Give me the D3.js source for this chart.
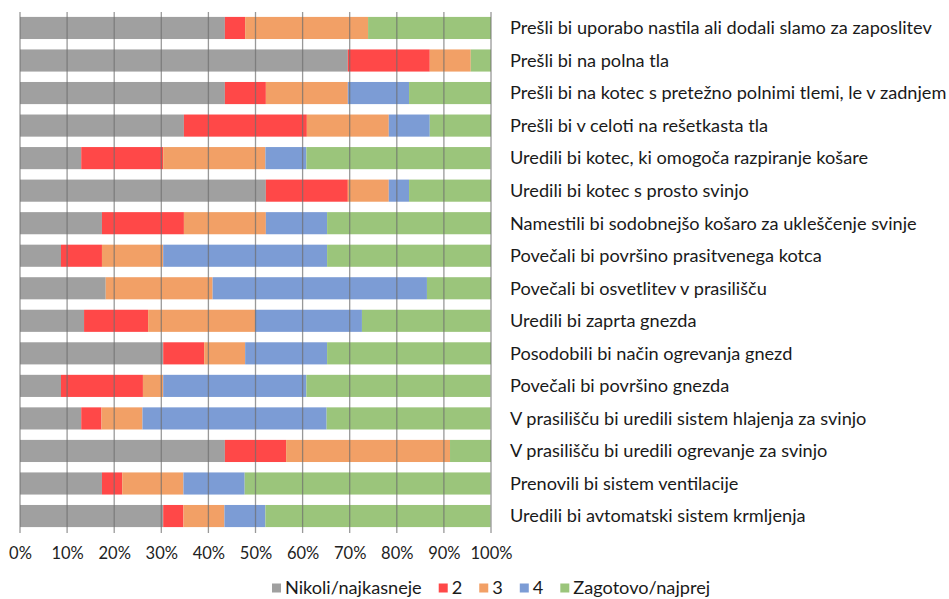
<!DOCTYPE html>
<html><head><meta charset="utf-8">
<script src="https://cdn.jsdelivr.net/npm/d3@7"></script>
<style>html,body{margin:0;padding:0;background:#fff;}svg{display:block;}</style>
</head><body>
<svg id="chart" width="949" height="599"></svg>
<script>
const categories = [
  "Prešli bi uporabo nastila ali dodali slamo za zaposlitev",
  "Prešli bi na polna tla",
  "Prešli bi na kotec s pretežno polnimi tlemi, le v zadnjem",
  "Prešli bi v celoti na rešetkasta tla",
  "Uredili bi kotec, ki omogoča razpiranje košare",
  "Uredili bi kotec s prosto svinjo",
  "Namestili bi sodobnejšo košaro za ukleščenje svinje",
  "Povečali bi površino prasitvenega kotca",
  "Povečali bi osvetlitev v prasilišču",
  "Uredili bi zaprta gnezda",
  "Posodobili bi način ogrevanja gnezd",
  "Povečali bi površino gnezda",
  "V prasilišču bi uredili sistem hlajenja za svinjo",
  "V prasilišču bi uredili ogrevanje za svinjo",
  "Prenovili bi sistem ventilacije",
  "Uredili bi avtomatski sistem krmljenja"
];
const seriesNames = ["Nikoli/najkasneje", "2", "3", "4", "Zagotovo/najprej"];
const nikoli   = [43.5, 69.6, 43.5, 34.8, 13.0, 52.2, 17.4,  8.7, 18.2, 13.6, 30.4,  8.7, 13.0, 43.5, 17.4, 30.4];
const s2       = [ 4.3, 17.4,  8.7, 26.1, 17.4, 17.4, 17.4,  8.7,  0.0, 13.6,  8.7, 17.4,  4.3, 13.0,  4.3,  4.3];
const s3       = [26.1,  8.7, 17.4, 17.4, 21.7,  8.7, 17.4, 13.0, 22.7, 22.7,  8.7,  4.3,  8.7, 34.8, 13.0,  8.7];
const s4       = [ 0.0,  0.0, 13.0,  8.7,  8.7,  4.3, 13.0, 34.8, 45.5, 22.7, 17.4, 30.4, 39.1,  0.0, 13.0,  8.7];
const zagotovo = [26.1,  4.3, 17.4, 13.0, 39.1, 17.4, 34.8, 34.8, 13.6, 27.3, 34.8, 39.1, 34.8,  8.7, 52.2, 47.8];
const tickValues = [0, 10, 20, 30, 40, 50, 60, 70, 80, 90, 100];
const colors = ["#A0A0A0", "#FF4848", "#F2A066", "#7C9CD5", "#9BC57B"];

const FONT = "Lato, 'Open Sans', sans-serif";
const rows = categories.map((c, i) => ({
  cat: c, s0: nikoli[i], s1: s2[i], s2: s3[i], s3: s4[i], s4: zagotovo[i]
}));
const keys = ["s0", "s1", "s2", "s3", "s4"];
const stacked = d3.stack().keys(keys)(rows);

const svg = d3.select("#chart");
const x = d3.scaleLinear().domain([0, 100]).range([20, 491]);
const y = d3.scaleBand().domain(categories).range([11.7, 532.3]).paddingInner(0.32).paddingOuter(0.16);
const color = d3.scaleOrdinal().domain(keys).range(colors);

// bars
svg.append("g").selectAll("g").data(stacked).join("g")
  .attr("fill", d => color(d.key))
  .selectAll("rect").data(d => d).join("rect")
  .attr("x", d => x(d[0]))
  .attr("y", d => y(d.data.cat))
  .attr("width", d => Math.max(0, x(d[1]) - x(d[0])))
  .attr("height", y.bandwidth());

// gridlines (drawn over, semi-transparent)
svg.append("g").selectAll("line").data(tickValues).join("line")
  .attr("x1", d => x(d)).attr("x2", d => x(d))
  .attr("y1", 12).attr("y2", 533)
  .attr("stroke", "#6e6e6e").attr("stroke-opacity", 0.7).attr("stroke-width", 1.3);

// x axis labels
const xAxis = d3.axisBottom(x).tickValues(tickValues).tickFormat(d => d + "%").tickSize(0).tickPadding(0);
const ax = svg.append("g").attr("transform", "translate(0,547)").call(xAxis);
ax.select(".domain").remove();
ax.selectAll("text").attr("font-family", FONT).attr("font-size", 16.5).attr("fill", "#222");

// category labels on the right
const labels = svg.append("g").selectAll("text").data(categories).join("text")
  .attr("x", 510)
  .attr("y", d => y(d) + y.bandwidth() / 2)
  .attr("dy", "0.35em")
  .attr("font-family", FONT).attr("font-size", 16).attr("fill", "#1a1a1a")
  .text(d => d);
// fit font so the widest label matches the reference width
const widest = labels.filter((d, i) => i === 0).node().getComputedTextLength();
const fs = 16 * 422 / widest;
labels.attr("font-size", fs);

// legend
const lfs = fs;
const lg = svg.append("g");
let cx = 0;
seriesNames.forEach((n, i) => {
  const g = lg.append("g");
  g.append("rect").attr("x", 0).attr("y", -4.5).attr("width", 9).attr("height", 9).attr("fill", colors[i]);
  const t = g.append("text").attr("x", 13).attr("dy", "0.35em")
    .attr("font-family", FONT).attr("font-size", lfs).attr("fill", "#1a1a1a").text(n);
  const w = 13 + t.node().getComputedTextLength();
  g.attr("transform", `translate(${cx},588)`);
  cx += w + 17;
});
lg.attr("transform", `translate(272,0)`);
</script>
</body></html>
